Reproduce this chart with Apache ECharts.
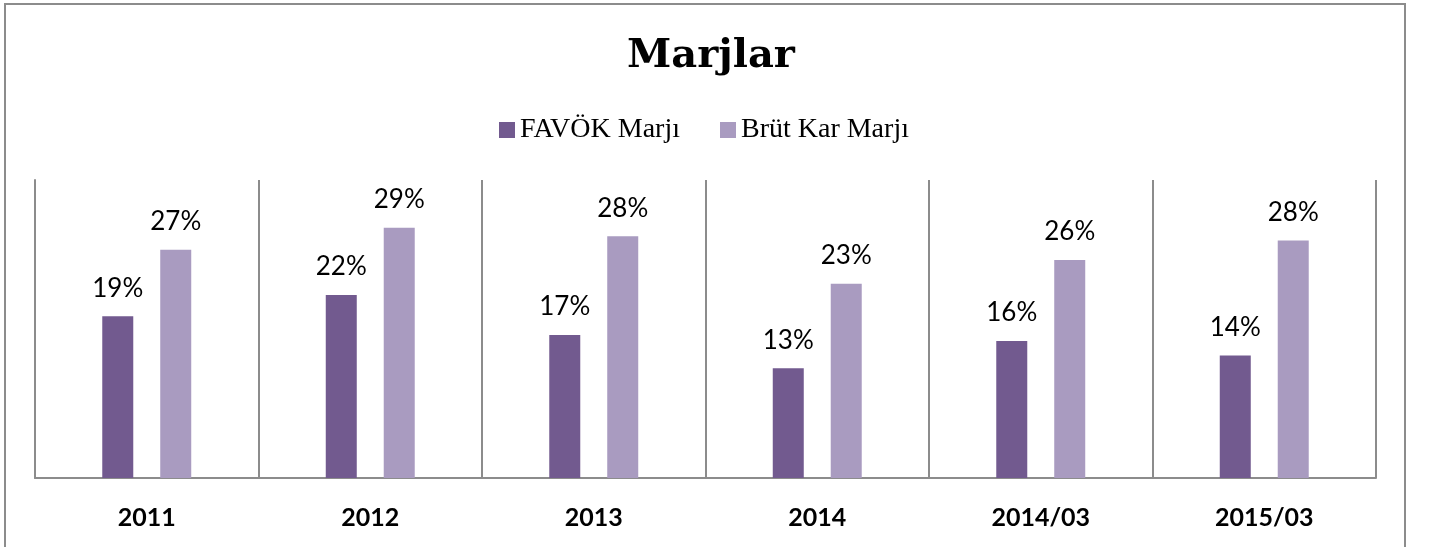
<!DOCTYPE html>
<html>
<head>
<meta charset="utf-8">
<script src="https://cdn.jsdelivr.net/npm/echarts@6/dist/echarts.min.js"></script>
<style>
  html, body { margin: 0; padding: 0; background: #fff; }
  #chart { width: 1433px; height: 547px; }
</style>
</head>
<body>
<div id="chart"></div>
<script>
// Marjlar - FAVÖK ve Brüt Kar marjları
const categories = ['2011', '2012', '2013', '2014', '2014/03', '2015/03'];
const favokMarji = [19.0, 21.5, 16.8, 12.9, 16.1, 14.4];
const brutKarMarji = [26.8, 29.4, 28.4, 22.8, 25.6, 27.9];
const seriesNames = ['FAVÖK Marjı', 'Brüt Kar Marjı'];

const chart = echarts.init(document.getElementById('chart'));

const pctLabel = {
  show: true,
  position: 'top',
  distance: 15,
  color: '#000',
  fontFamily: 'Lato',
  fontSize: 26,
  formatter: p => Math.round(p.value) + '%'
};

chart.setOption({
  animation: false,
  backgroundColor: '#fff',
  title: {
    text: 'Marjlar',
    left: 622,
    top: 32,
    textStyle: {
      fontFamily: 'DejaVu Serif',
      fontWeight: 'bold',
      fontSize: 40,
      color: '#000'
    }
  },
  legend: {
    top: 116,
    left: 499,
    padding: 0,
    itemWidth: 16,
    itemHeight: 16,
    itemGap: 40,
    icon: 'rect',
    textStyle: {
      fontFamily: 'Liberation Serif',
      fontSize: 28,
      color: '#000'
    },
    data: seriesNames
  },
  grid: { left: 35, right: 57, top: 180, bottom: 69 },
  xAxis: {
    type: 'category',
    data: categories,
    axisLine: { lineStyle: { color: '#8c8c8c', width: 2 } },
    axisTick: { show: false },
    axisLabel: {
      margin: 27,
      fontFamily: 'Lato',
      fontWeight: 'bold',
      fontSize: 25,
      color: '#000'
    },
    splitLine: { show: true, interval: 0, lineStyle: { color: '#8c8c8c', width: 2 } }
  },
  yAxis: {
    type: 'value',
    min: 0,
    max: 35,
    axisLine: { show: true, lineStyle: { color: '#8c8c8c', width: 2 } },
    axisTick: { show: false },
    axisLabel: { show: false },
    splitLine: { show: false }
  },
  series: [
    {
      name: seriesNames[0],
      type: 'bar',
      data: favokMarji,
      barWidth: 31,
      barGap: '87%',
      itemStyle: { color: '#725a8f' },
      label: pctLabel
    },
    {
      name: seriesNames[1],
      type: 'bar',
      data: brutKarMarji,
      barWidth: 31,
      itemStyle: { color: '#a99bc0' },
      label: pctLabel
    }
  ],
  graphic: [
    {
      type: 'rect',
      shape: { x: 5, y: 4, width: 1400, height: 600 },
      style: { fill: null, stroke: '#8c8c8c', lineWidth: 2 },
      silent: true
    }
  ]
});
</script>
</body>
</html>
